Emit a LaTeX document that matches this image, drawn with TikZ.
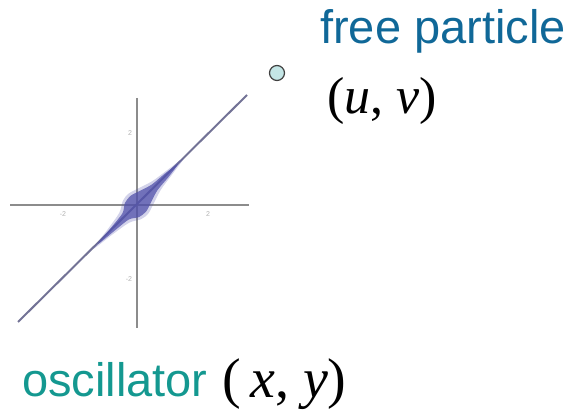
\documentclass[tikz,border=0pt]{standalone}
\usepackage{fontspec}
\setmainfont{Liberation Sans}
\newfontfamily\timesfont{Liberation Serif}
\usepackage{xcolor}
\definecolor{freeblue}{RGB}{16,104,152}
\definecolor{osciteal}{RGB}{20,152,144}
\definecolor{dotfill}{RGB}{196,230,230}
\definecolor{blobblue}{RGB}{80,80,170}
\definecolor{lineblue}{RGB}{115,115,150}
\begin{document}
\begin{tikzpicture}[x=1pt,y=-1pt,
  word/.style={anchor=base west,inner sep=0pt,font=\fontsize{47}{50}\selectfont},
  coord/.style={anchor=base west,inner sep=0pt,font=\timesfont\fontsize{52}{56}\selectfont},
  axis/.style={draw=black!45,line width=1.6pt},
  tick/.style={font=\fontsize{7}{8}\selectfont,text=black!30,inner sep=0pt}]
\useasboundingbox (0,0) rectangle (571,411);
\coordinate (o) at (137,205);
\draw[axis] (10,205) -- (249,205);
\draw[axis] (137,98) -- (137,328);
\node[tick] (xneg) at (63,214) {-2};
\node[tick] (xpos) at (208,214) {2};
\node[tick] (ypos) at (130,133) {2};
\node[tick] (yneg) at (129,279) {-2};
\draw[draw=lineblue,line width=2pt] (18,322) -- (247,95);
\begin{scope}[shift={(o)},rotate=45]
  \fill[blobblue,opacity=.25] plot[smooth cycle] coordinates {(-62,0) (-38,3.5) (-18,7) (-7,13) (2,14) (12,11) (28,6) (48,3) (66,0)
    (48,-3) (28,-6) (12,-11) (2,-14) (-7,-13) (-18,-7) (-38,-3.5)};
  \fill[blobblue,opacity=.75] plot[smooth cycle] coordinates {(-55,0) (-32,2.5) (-16,4.5) (-7,10) (2,11) (12,8) (25,4) (42,2.5) (58,0)
    (42,-2.5) (25,-4) (12,-8) (2,-11) (-7,-10) (-16,-4.5) (-32,-2.5)};
\end{scope}
\node[circle,draw=black!75,fill=dotfill,line width=1.2pt,minimum size=15pt,inner sep=0pt] (dot) at (277,73) {};
\node[word,text=freeblue] (free) at (320,44) {free particle};
\node[coord] (uv) at (327,114) {(\textit{u}, \textit{v})};
\node[word,text=osciteal] (osc) at (22,397) {oscillator};
\node[coord,font=\timesfont\fontsize{56}{60}\selectfont] (xy) at (222,398) {(\,\textit{x}, \textit{y})};
\end{tikzpicture}
\end{document}
